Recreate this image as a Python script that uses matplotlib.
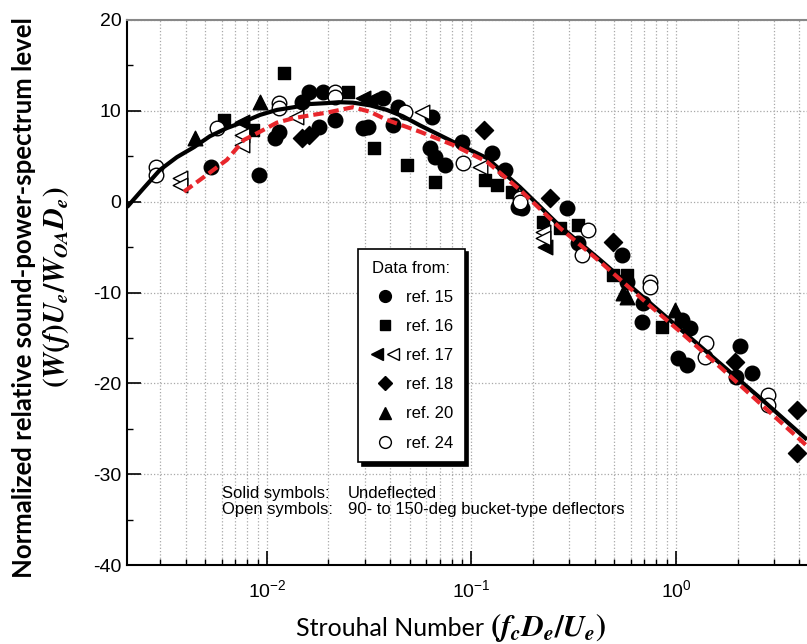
import matplotlib
matplotlib.use("Agg")
import matplotlib.pyplot as plt
from matplotlib.lines import Line2D
from matplotlib.legend_handler import HandlerTuple
from matplotlib.ticker import LogLocator, NullFormatter, MultipleLocator

# fitted curves
black_st = [0.00207, 0.0025, 0.0030, 0.00363, 0.0044, 0.00526, 0.00637, 0.00772, 0.00925,
            0.01119, 0.01355, 0.01623, 0.01963, 0.0225, 0.02634, 0.032, 0.0386, 0.0462,
            0.056, 0.0812, 0.119, 0.1726, 0.271, 0.425, 0.69, 1.046, 1.641, 2.575, 4.37]
black_db = [-0.6, 1.5, 3.5, 4.9, 6.0, 7.2, 8.1, 8.8, 9.55,
            10.1, 10.4, 10.75, 10.85, 10.95, 10.9, 10.6, 10.1, 9.4,
            8.4, 6.6, 4.8, 1.6, -2.7, -6.4, -10.5, -14.0, -17.8, -21.6, -26.2]
red_st = [0.00393, 0.00526, 0.00637, 0.00772, 0.00925, 0.01119, 0.01355, 0.01623, 0.01963,
          0.02634, 0.0319, 0.0386, 0.056, 0.0812, 0.119, 0.1726, 0.271, 0.425, 0.69,
          1.046, 1.641, 2.575, 4.37]
red_db = [1.1, 3.2, 4.6, 6.8, 7.7, 8.7, 9.2, 9.5, 9.8,
          10.4, 9.9, 9.0, 7.7, 6.25, 4.4, 1.3, -2.9, -6.6, -10.8,
          -14.3, -18.2, -22.2, -26.9]

# data points
ref15_st = [0.00532, 0.0091, 0.0109, 0.0115, 0.0148, 0.0161, 0.018, 0.0188, 0.0215, 0.0295,
            0.0312, 0.0369, 0.0413, 0.0437, 0.063, 0.0641, 0.066, 0.0742, 0.0898, 0.126,
            0.146, 0.169, 0.176, 0.293, 0.332, 0.544, 0.576, 0.682, 0.69, 1.02, 1.07, 1.13,
            1.17, 1.97, 2.06, 2.35]
ref15_db = [3.8, 2.9, 7.0, 7.7, 11.0, 12.1, 8.2, 12.1, 9.0, 8.1,
            8.2, 11.4, 8.4, 10.4, 5.9, 9.3, 4.9, 4.0, 6.6, 5.4,
            3.5, -0.6, -0.7, -0.7, -4.5, -5.9, -8.8, -13.3, -11.2, -17.2, -13.0, -18.0,
            -13.9, -19.3, -15.9, -18.9]
ref16_st = [0.0062, 0.00855, 0.0121, 0.0249, 0.0334, 0.0484, 0.0663, 0.116, 0.133, 0.158,
            0.223, 0.271, 0.332, 0.492, 0.576, 0.855]
ref16_db = [9.0, 7.9, 14.2, 12.1, 5.9, 4.0, 2.2, 2.4, 1.8, 1.1,
            -2.2, -2.9, -2.6, -8.1, -8.1, -13.8]
ref17_st = [0.00755, 0.0295, 0.0318, 0.229]
ref17_db = [8.8, 11.4, 11.2, -5.0]
ref17_open_st = [0.00376, 0.00376, 0.00755, 0.00755, 0.0138, 0.0573, 0.110, 0.223, 0.223]
ref17_open_db = [2.6, 1.8, 7.3, 6.2, 9.3, 9.9, 3.8, -3.3, -4.0]
ref18_st = [0.0148, 0.0161, 0.115, 0.242, 0.492, 1.94, 3.9, 3.9]
ref18_db = [7.0, 7.3, 7.9, 0.4, -4.4, -17.6, -22.9, -27.7]
ref20_st = [0.00445, 0.00925, 0.55, 0.576, 0.989]
ref20_db = [7.0, 11.0, -10.0, -10.5, -11.9]
ref24_st = [0.00286, 0.00286, 0.0057, 0.01145, 0.01145, 0.0215, 0.0215, 0.0473, 0.0908, 0.173,
            0.173, 0.371, 0.347, 0.746, 0.746, 1.40, 1.39, 2.82, 2.82]
ref24_db = [3.8, 2.9, 8.1, 10.9, 10.3, 12.1, 11.5, 9.9, 4.3, 0.4,
            0.0, -3.1, -5.9, -8.8, -9.4, -15.6, -17.1, -21.3, -22.4]

legend_labels = ["ref. 15", "ref. 16", "ref. 17", "ref. 18", "ref. 20", "ref. 24"]

plt.rcParams["font.family"] = "Liberation Sans"
plt.rcParams["axes.unicode_minus"] = False
plt.rcParams["mathtext.fontset"] = "custom"
plt.rcParams["mathtext.rm"] = "STIXGeneral:bold"
plt.rcParams["mathtext.it"] = "STIXGeneral:italic:bold"
plt.rcParams["mathtext.bf"] = "STIXGeneral:bold"

fig = plt.figure(figsize=(8.07, 6.44), dpi=100)
ax = fig.add_axes([127 / 807, 79 / 644, 680 / 807, 545 / 644])
ax.set_xscale("log")
ax.set_xlim(0.00207, 4.37)
ax.set_ylim(-40, 20)
ax.set_axisbelow(True)

ax.xaxis.set_minor_locator(LogLocator(base=10, subs=range(2, 10)))
ax.xaxis.set_minor_formatter(NullFormatter())
ax.yaxis.set_major_locator(MultipleLocator(10))
ax.yaxis.set_minor_locator(MultipleLocator(5))
ax.grid(which="both", axis="x", ls=":", color="#a8a8a8", lw=0.9)
ax.grid(which="major", axis="y", ls=":", color="#a8a8a8", lw=0.9)

ax.tick_params(which="major", direction="in", length=10, width=1.2, labelsize=14, pad=4)
ax.tick_params(axis="x", which="major", pad=10)
ax.tick_params(which="minor", direction="in", length=4, width=1.0)
for s in ["left", "bottom"]:
    ax.spines[s].set_linewidth(1.5)
ax.spines["top"].set_color("#888888")
ax.spines["top"].set_linewidth(1.5)
ax.spines["right"].set_visible(False)

big = 110
ax.scatter(ref15_st, ref15_db, s=big, marker="o", c="k", zorder=3)
ax.scatter(ref16_st, ref16_db, s=85, marker="s", c="k", zorder=3)
ax.scatter(ref17_st, ref17_db, s=big, marker="<", c="k", zorder=3)
ax.scatter(ref17_open_st, ref17_open_db, s=big, marker="<", facecolors="white",
           edgecolors="k", linewidths=1.0, zorder=3.5)
ax.scatter(ref18_st, ref18_db, s=85, marker="D", c="k", zorder=3)
ax.scatter(ref20_st, ref20_db, s=big, marker="^", c="k", zorder=3)
ax.scatter(ref24_st, ref24_db, s=big, marker="o", facecolors="white",
           edgecolors="k", linewidths=1.0, zorder=3.5)

ax.plot(black_st, black_db, color="k", lw=3, zorder=4, solid_capstyle="butt")
ax.plot(red_st, red_db, color="#e8262b", lw=3, ls=(0, (2.5, 1.2)), zorder=5)

handles = [
    Line2D([], [], ls="none", marker="o", mfc="k", mec="k", ms=8.5),
    Line2D([], [], ls="none", marker="s", mfc="k", mec="k", ms=7.5),
    (Line2D([], [], ls="none", marker="<", mfc="k", mec="k", ms=8.5),
     Line2D([], [], ls="none", marker="<", mfc="white", mec="k", ms=8.5)),
    Line2D([], [], ls="none", marker="D", mfc="k", mec="k", ms=7.5),
    Line2D([], [], ls="none", marker="^", mfc="k", mec="k", ms=8.5),
    Line2D([], [], ls="none", marker="o", mfc="white", mec="k", ms=8.5),
]
leg = ax.legend(handles, legend_labels, title="Data from:", loc="upper left",
                bbox_to_anchor=(0.34, 0.58), borderaxespad=0, fancybox=False,
                edgecolor="k", framealpha=1, fontsize=12, title_fontsize=12,
                handler_map={tuple: HandlerTuple(ndivide=None, pad=0.2)},
                handlelength=1.8, handletextpad=0.35, labelspacing=0.85, borderpad=0.7,
                shadow={"ox": 2.5, "oy": -2.5, "facecolor": "k", "edgecolor": "k", "alpha": 1})
leg.get_frame().set_linewidth(1.2)
leg.set_zorder(6)

ax.text(0.14, 0.132, "Solid symbols:", transform=ax.transAxes, fontsize=12, va="center")
ax.text(0.325, 0.132, "Undeflected", transform=ax.transAxes, fontsize=12, va="center")
ax.text(0.14, 0.101, "Open symbols:", transform=ax.transAxes, fontsize=12, va="center")
ax.text(0.325, 0.101, "90- to 150-deg bucket-type deflectors", transform=ax.transAxes,
        fontsize=12, va="center")

fig.text(24 / 807, 1 - 298 / 644, "Normalized relative sound-power-spectrum level",
         rotation=90, ha="center", va="center", fontsize=18.5, fontweight="bold", family="Lato")
fig.text(57 / 807, 1 - 287 / 644, r"$(W(f)U_e/W_{OA}D_e)$",
         rotation=90, ha="center", va="center", fontsize=21)
fig.text(484 / 807, 1 - 636 / 644, "Strouhal Number",
         ha="right", va="baseline", fontsize=18, family="Lato")
fig.text(490 / 807, 1 - 636 / 644, r"$(f_cD_e/U_e)$",
         ha="left", va="baseline", fontsize=22)

fig.savefig("out.png", dpi=100)
